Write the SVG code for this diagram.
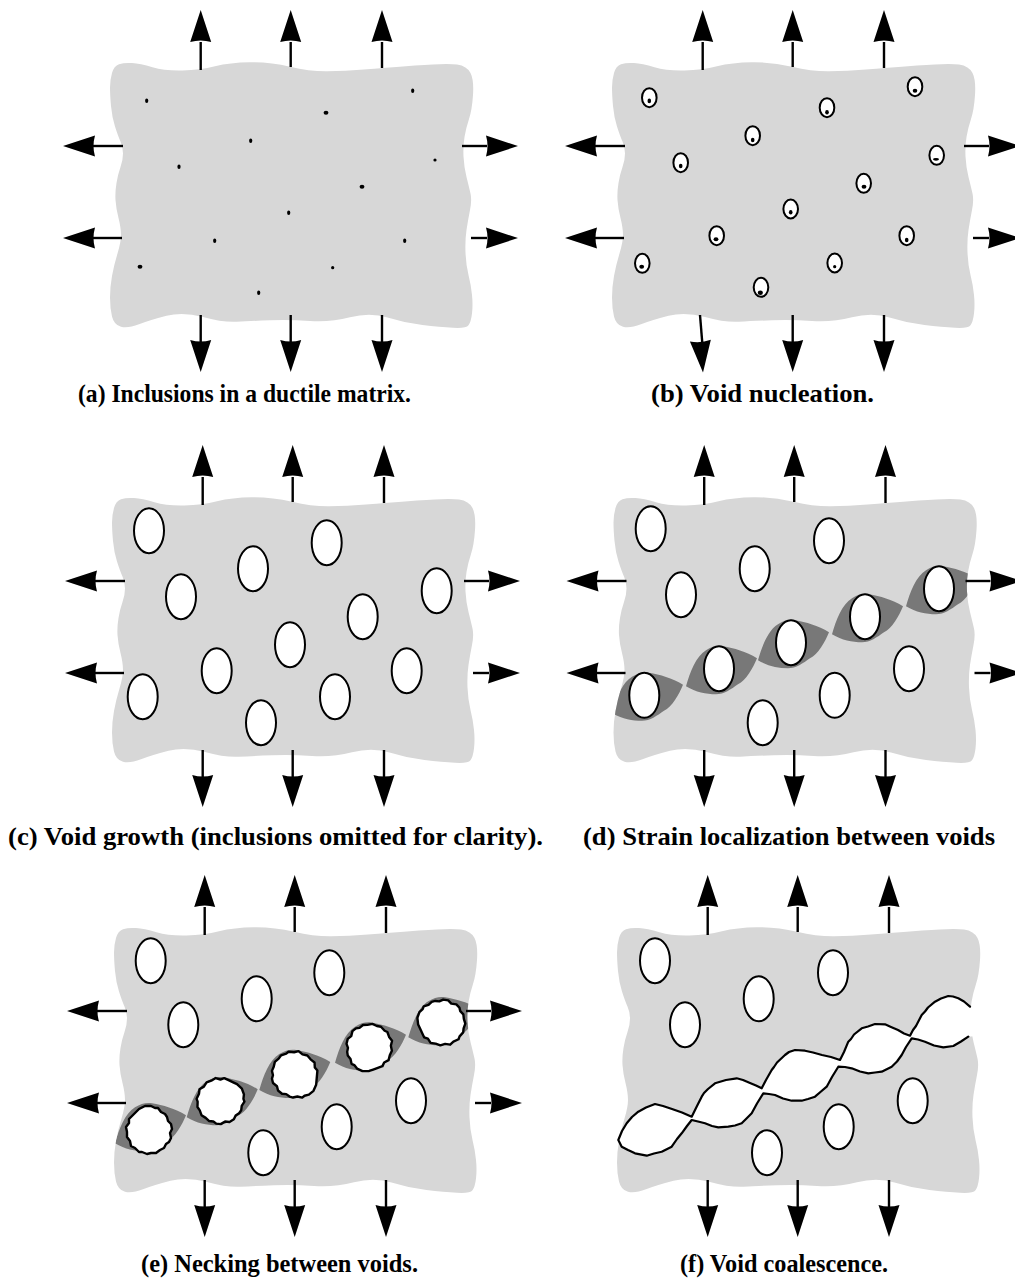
<svg xmlns="http://www.w3.org/2000/svg" width="1015" height="1281" viewBox="0 0 1015 1281">
  <style>
    .blob { fill: #d7d7d7; }
    .shaft { stroke: #000; stroke-width: 2.4; fill: none; }
    .head { fill: #000; }
    .inc { fill: #000; }
    .void { fill: #fff; stroke: #000; stroke-width: 2; }
    .band { fill: #787878; }
    .jag { fill: #fff; stroke: #000; stroke-width: 2.4; stroke-linejoin: round; }
    .crack-fill { fill: #fff; }
    .crack-edge { fill: none; stroke: #000; stroke-width: 2.2; stroke-linejoin: round; stroke-linecap: round; }
    .label { font-family: "Liberation Serif", "Times New Roman", serif; font-weight: bold; font-size: 25px; fill: #000; }
  </style>
  <defs>
    <!-- wavy specimen outline, panel (a) coordinates -->
    <path id="blob" d="M110,87.5 Q110,80 112,73 Q114,66 119,64.25 Q124,62.5 132,63 Q140,63.5 152.5,67.25 Q165,71 182.5,70.5 Q200,70 215,66.25 Q230,62.5 250,62.25 Q270,62 290,66.75 Q310,71.5 327.5,71.25 Q345,71 364,69.5 Q383,68 415,65.5 Q447,63 457,64.5 Q467,66 470.5,73 Q474,80 473,95 Q472,110 469,119 Q466,128 464.5,137 Q463,146 463.5,156.5 Q464,167 466.5,177 Q469,187 470.5,193.5 Q472,200 470,210 Q468,220 466.5,230 Q465,240 465.5,252.5 Q466,265 468.5,275 Q471,285 472,295 Q473,305 472,313.5 Q471,322 468.5,325.25 Q466,328.5 453,327.75 Q440,327 422.5,325 Q405,323 387.5,317.5 Q370,312 350,317.25 Q330,322.5 310,321 Q290,319.5 270,320.25 Q250,321 236.5,321.75 Q223,322.5 203,317 Q183,311.5 166.5,315.75 Q150,320 139,324.25 Q128,328.5 121,326.75 Q114,325 112,316.5 Q110,308 110,297.5 Q110,287 112,276 Q114,265 117.5,253.5 Q121,242 121,235 Q121,228 118.5,218 Q116,208 115.5,200 Q115,192 116.5,183 Q118,174 120.5,167 Q123,160 123,153.5 Q123,147 120.5,141.5 Q118,136 115,126.5 Q112,117 111,106 Q110,95 110,87.5 Z"/>
    <!-- arrowhead, tip at origin, pointing up -->
    <path id="ah" d="M0,0 L10.5,32 Q0,29 -10.5,32 Z"/>
    <!-- localized shear band piece between two voids -->
    <path id="seg" d="M0,0 C4,-14 10,-30 20,-36 C26,-40 32,-41 37,-40 C48,-38 60,-35 71,-28 C67,-18 60,-6 52,-2 C45,3 38,8 30,8 C20,8 10,6 0,0 Z"/>
    <!-- torn void outline -->
    <path id="jag" d="M-4,-24 L2,-24 L6,-22 L9,-22 L12,-18 L16,-16 L18,-13 L19,-9 L22,-6 L23,-1 L21,3 L22,8 L20,12 L17,14 L15,18 L11,20 L7,23 L2,23 L-2,24 L-7,22 L-10,22 L-14,18 L-18,16 L-19,11 L-22,7 L-22,2 L-23,-3 L-20,-7 L-20,-11 L-17,-14 L-13,-18 L-10,-21 Z"/>
    <clipPath id="clip-d"><use href="#blob" transform="translate(503.5,435)"/></clipPath>
    <clipPath id="clip-e"><use href="#blob" transform="translate(4,865)"/></clipPath>
  </defs>

  <rect width="1015" height="1281" fill="#fff"/>

  <!-- (a) inclusions in a ductile matrix -->
  <g id="panel-a">
    <use href="#blob" class="blob"/>
    <g class="inc">
      <ellipse cx="146.7" cy="100.7" rx="1.6" ry="2.2"/>
      <ellipse cx="326" cy="112.7" rx="2.4" ry="2"/>
      <ellipse cx="412.7" cy="90.7" rx="1.6" ry="2.2"/>
      <ellipse cx="250.7" cy="140.7" rx="1.6" ry="2.2"/>
      <ellipse cx="179" cy="166.7" rx="1.6" ry="2.2"/>
      <ellipse cx="435" cy="160" rx="1.6" ry="1.6"/>
      <ellipse cx="362" cy="186.7" rx="2.4" ry="2"/>
      <ellipse cx="288.7" cy="212.7" rx="1.6" ry="2.2"/>
      <ellipse cx="214.7" cy="240.7" rx="1.6" ry="2.2"/>
      <ellipse cx="404.7" cy="240.7" rx="1.6" ry="2.2"/>
      <ellipse cx="140" cy="266.7" rx="2.4" ry="2"/>
      <ellipse cx="332.7" cy="267.7" rx="1.6" ry="1.6"/>
      <ellipse cx="258.7" cy="292.7" rx="1.6" ry="2.2"/>
    </g>
  </g>

  <!-- (b) void nucleation -->
  <g id="panel-b">
    <use href="#blob" class="blob" transform="translate(502,0)"/>
    <g class="void">
      <ellipse cx="649.3" cy="97.7" rx="7.3" ry="9.5"/>
      <ellipse cx="827" cy="107.7" rx="7.3" ry="9.5"/>
      <ellipse cx="915" cy="86.7" rx="7.3" ry="9.5"/>
      <ellipse cx="752.7" cy="135.7" rx="7.3" ry="9.5"/>
      <ellipse cx="680.7" cy="162.7" rx="7.3" ry="9.5"/>
      <ellipse cx="936.7" cy="155.3" rx="7.3" ry="9.5"/>
      <ellipse cx="863.7" cy="183.3" rx="7.3" ry="9.5"/>
      <ellipse cx="790.7" cy="209" rx="7.3" ry="9.5"/>
      <ellipse cx="716.7" cy="235.7" rx="7.3" ry="9.5"/>
      <ellipse cx="906.7" cy="235.7" rx="7.3" ry="9.5"/>
      <ellipse cx="642.3" cy="263.3" rx="7.3" ry="9.5"/>
      <ellipse cx="834.7" cy="263" rx="7.3" ry="9.5"/>
      <ellipse cx="761" cy="287.3" rx="7.3" ry="9.5"/>
    </g>
    <g class="inc">
      <ellipse cx="649.3" cy="100.9" rx="1.8" ry="2.3"/>
      <ellipse cx="827" cy="112.3" rx="1.8" ry="2.3"/>
      <ellipse cx="915" cy="90.7" rx="2.3" ry="2"/>
      <ellipse cx="752.7" cy="140" rx="1.8" ry="2.3"/>
      <ellipse cx="680.7" cy="166" rx="1.8" ry="2.3"/>
      <ellipse cx="936" cy="159.3" rx="3" ry="1.4"/>
      <ellipse cx="864" cy="186.7" rx="2.4" ry="2"/>
      <ellipse cx="790.7" cy="212.3" rx="1.8" ry="2.3"/>
      <ellipse cx="716" cy="239.3" rx="2.4" ry="2"/>
      <ellipse cx="906.7" cy="240" rx="1.8" ry="2.3"/>
      <ellipse cx="641.7" cy="266.7" rx="2.4" ry="2"/>
      <ellipse cx="834.7" cy="266.7" rx="1.6" ry="1.6"/>
      <ellipse cx="760.3" cy="292.7" rx="2.6" ry="2.2"/>
    </g>
  </g>

  <!-- (c) void growth -->
  <g id="panel-c">
    <use href="#blob" class="blob" transform="translate(2,435)"/>
    <g class="void">
      <ellipse cx="149" cy="530.7" rx="15" ry="22.5"/>
      <ellipse cx="326.7" cy="542.7" rx="15" ry="22.5"/>
      <ellipse cx="253" cy="568.7" rx="15" ry="22.5"/>
      <ellipse cx="181" cy="596.7" rx="15" ry="22.5"/>
      <ellipse cx="436.7" cy="590.7" rx="15" ry="22.5"/>
      <ellipse cx="362.7" cy="616.7" rx="15" ry="22.5"/>
      <ellipse cx="290" cy="644.7" rx="15" ry="22.5"/>
      <ellipse cx="216.7" cy="670.7" rx="15" ry="22.5"/>
      <ellipse cx="406.7" cy="670.7" rx="15" ry="22.5"/>
      <ellipse cx="142.7" cy="696.7" rx="15" ry="22.5"/>
      <ellipse cx="335" cy="696.7" rx="15" ry="22.5"/>
      <ellipse cx="261" cy="722.7" rx="15" ry="22.5"/>
    </g>
  </g>

  <!-- (d) strain localization between voids -->
  <g id="panel-d">
    <use href="#blob" class="blob" transform="translate(503.5,435)"/>
    <g class="band" clip-path="url(#clip-d)">
      <use href="#seg" transform="translate(612,712.8)"/>
      <use href="#seg" transform="translate(686,686.2)"/>
      <use href="#seg" transform="translate(758,660.2)"/>
      <use href="#seg" transform="translate(832,634.2)"/>
      <use href="#seg" transform="translate(906,606.2)"/>
    </g>
    <g class="void">
      <ellipse cx="650.7" cy="528.7" rx="15" ry="22.5"/>
      <ellipse cx="829" cy="540.7" rx="15" ry="22.5"/>
      <ellipse cx="754.7" cy="568.7" rx="15" ry="22.5"/>
      <ellipse cx="681" cy="594.7" rx="15" ry="22.5"/>
      <ellipse cx="909" cy="668.7" rx="15" ry="22.5"/>
      <ellipse cx="834.7" cy="695.3" rx="15" ry="22.5"/>
      <ellipse cx="762.7" cy="722.7" rx="15" ry="22.5"/>
      <ellipse cx="644.3" cy="695.3" rx="15" ry="22.5"/>
      <ellipse cx="719" cy="668.7" rx="15" ry="22.5"/>
      <ellipse cx="791" cy="642.7" rx="15" ry="22.5"/>
      <ellipse cx="865" cy="616.7" rx="15" ry="22.5"/>
      <ellipse cx="939" cy="588.7" rx="15" ry="22.5"/>
    </g>
  </g>

  <!-- (e) necking between voids -->
  <g id="panel-e">
    <use href="#blob" class="blob" transform="translate(4,865)"/>
    <g class="band" clip-path="url(#clip-e)">
      <use href="#seg" transform="translate(115,1143.3)"/>
      <use href="#seg" transform="translate(186.7,1117.3)"/>
      <use href="#seg" transform="translate(259.3,1090)"/>
      <use href="#seg" transform="translate(335,1062.7)"/>
      <use href="#seg" transform="translate(408.3,1037.3)"/>
    </g>
    <g class="void">
      <ellipse cx="150.7" cy="960.7" rx="15" ry="22.5"/>
      <ellipse cx="329.3" cy="972.7" rx="15" ry="22.5"/>
      <ellipse cx="256.7" cy="998.7" rx="15" ry="22.5"/>
      <ellipse cx="183.3" cy="1024.7" rx="15" ry="22.5"/>
      <ellipse cx="411" cy="1100.7" rx="15" ry="22.5"/>
      <ellipse cx="336.7" cy="1126.7" rx="15" ry="22.5"/>
      <ellipse cx="263.3" cy="1152.7" rx="15" ry="22.5"/>
    </g>
    <g class="jag">
      <use href="#jag" transform="translate(149,1130)"/>
      <use href="#jag" transform="translate(220.7,1100.7) rotate(70)"/>
      <use href="#jag" transform="translate(295,1075) rotate(140)"/>
      <use href="#jag" transform="translate(369,1047.7) rotate(205)"/>
      <use href="#jag" transform="translate(441.3,1022.3) rotate(290)"/>
    </g>
  </g>

  <!-- (f) void coalescence -->
  <g id="panel-f">
    <use href="#blob" class="blob" transform="translate(507,865)"/>
    <g class="void">
      <ellipse cx="655" cy="960.7" rx="15" ry="22.5"/>
      <ellipse cx="833" cy="972.7" rx="15" ry="22.5"/>
      <ellipse cx="758.7" cy="998.7" rx="15" ry="22.5"/>
      <ellipse cx="685" cy="1024.7" rx="15" ry="22.5"/>
      <ellipse cx="912.7" cy="1100.7" rx="15" ry="22.5"/>
      <ellipse cx="838.7" cy="1126.7" rx="15" ry="22.5"/>
      <ellipse cx="767" cy="1152.7" rx="15" ry="22.5"/>
    </g>
    <g id="crack">
      <path class="crack-fill" d="M618.3,1140 L626.7,1123.3 L638.3,1111.7 L655,1104 L672,1109 L691.7,1116.7 L701.7,1096.7 L715,1083.3 L736.7,1078.3 L750,1083 L761.7,1088.3 L771.7,1070 L785,1055 L795,1050 L805,1050.7 L822,1055 L840,1060 L848.3,1041.7 L861.7,1028.3 L875,1024 L885,1024.3 L898,1030 L910,1035.7 L921.7,1015 L935,1001.7 L948.3,996 L958.3,998.3 L970,1006.7 L976,1008 L976,1036 L968.3,1036.7 L953.3,1046 L943.3,1047.3 L925,1041.7 L911.7,1038.3 L901.7,1055 L891.7,1066.7 L881.7,1071.7 L868.3,1073.3 L851.7,1068.3 L838.3,1066.7 L826.7,1086.7 L815,1096.7 L801.7,1100.7 L791.7,1100.7 L775,1095 L763.3,1093.3 L751.7,1113.3 L741.7,1123.3 L728.3,1126.7 L718.3,1127.3 L705,1123.3 L691.7,1120 L681.7,1133.3 L671.7,1146.7 L661.7,1151.7 L646.7,1155.7 L635,1153.3 L621.7,1146.7 Z"/>
      <path class="crack-edge" d="M970,1006.7 L964,1001.5 L958.3,998.3 L953,996.5 L948.3,996 L941,998.5 L935,1001.7 L928,1007.5 L925,1011.5 L921.7,1015 L916,1026 L913,1030 L910,1035.7 L904,1033.5 L898,1030 L891,1027 L885,1024.3 L875,1024 L868,1026.5 L861.7,1028.3 L854,1034.5 L851,1039 L848.3,1041.7 L844,1052 L840,1060 L831,1057 L822,1055 L813,1052.5 L805,1050.7 L795,1050 L789,1052 L785,1055 L777,1062.5 L774,1067 L771.7,1070 L766,1080 L761.7,1088.3 L756,1085.5 L750,1083 L743,1080 L736.7,1078.3 L726,1080 L715,1083.3 L708,1089 L704,1093 L701.7,1096.7 L697,1106 L691.7,1116.7 L682,1112.5 L672,1109 L663,1106 L655,1104 L646,1107.5 L638.3,1111.7 L632,1117 L626.7,1123.3 L622,1131 L618.3,1140 L621.7,1146.7 L628,1150 L635,1153.3 L646.7,1155.7 L654,1153.5 L661.7,1151.7 L671.7,1146.7 L677,1139 L681.7,1133.3 L687,1126 L691.7,1120 L698,1121.5 L705,1123.3 L712,1126 L718.3,1127.3 L728.3,1126.7 L735,1125.5 L741.7,1123.3 L747,1118 L751.7,1113.3 L757,1103.5 L763.3,1093.3 L769,1094 L775,1095 L783,1098.5 L791.7,1100.7 L801.7,1100.7 L808,1099 L815,1096.7 L821,1091.5 L826.7,1086.7 L832,1077 L838.3,1066.7 L845,1067 L851.7,1068.3 L860,1071.5 L868.3,1073.3 L875,1072.5 L881.7,1071.7 L891.7,1066.7 L897,1061.5 L901.7,1055 L906,1047 L911.7,1038.3 L918,1039.5 L925,1041.7 L934,1045.5 L943.3,1047.3 L953.3,1046 L961,1041.5 L968.3,1036.7"/>
    </g>
  </g>

  <!-- applied tractions -->
  <g id="connectors">
    <g id="loads-a">
      <g class="shaft">
        <line x1="200.7" y1="42" x2="200.7" y2="70"/>
        <line x1="290.7" y1="42" x2="290.7" y2="67"/>
        <line x1="382" y1="42" x2="382" y2="68"/>
        <line x1="200.7" y1="315" x2="200.7" y2="343"/>
        <line x1="290.7" y1="315" x2="290.7" y2="343"/>
        <line x1="382" y1="315" x2="382" y2="343"/>
        <line x1="93" y1="146" x2="123" y2="146"/>
        <line x1="93" y1="238" x2="122" y2="238"/>
        <line x1="462" y1="146" x2="487" y2="146"/>
        <line x1="471" y1="238" x2="487" y2="238"/>
      </g>
      <g class="head">
        <use href="#ah" transform="translate(200.7,10)"/>
        <use href="#ah" transform="translate(290.7,10)"/>
        <use href="#ah" transform="translate(382,10)"/>
        <use href="#ah" transform="translate(200.7,372) rotate(180)"/>
        <use href="#ah" transform="translate(290.7,372) rotate(180)"/>
        <use href="#ah" transform="translate(382,372) rotate(180)"/>
        <use href="#ah" transform="translate(63,146) rotate(-90)"/>
        <use href="#ah" transform="translate(63,238) rotate(-90)"/>
        <use href="#ah" transform="translate(518,146) rotate(90)"/>
        <use href="#ah" transform="translate(518,238) rotate(90)"/>
      </g>
    </g>
    <g id="loads-b" transform="translate(502,0)">
      <g class="shaft">
        <line x1="200.7" y1="42" x2="200.7" y2="70"/>
        <line x1="290.7" y1="42" x2="290.7" y2="67"/>
        <line x1="382" y1="42" x2="382" y2="68"/>
        <line x1="198" y1="315" x2="200.3" y2="343"/>
        <line x1="290.7" y1="315" x2="290.7" y2="343"/>
        <line x1="382" y1="315" x2="382" y2="343"/>
        <line x1="93" y1="146" x2="123" y2="146"/>
        <line x1="93" y1="238" x2="122" y2="238"/>
        <line x1="462" y1="146" x2="487" y2="146"/>
        <line x1="471" y1="238" x2="487" y2="238"/>
      </g>
      <g class="head">
        <use href="#ah" transform="translate(200.7,10)"/>
        <use href="#ah" transform="translate(290.7,10)"/>
        <use href="#ah" transform="translate(382,10)"/>
        <use href="#ah" transform="translate(201,372.5) rotate(175.3)"/>
        <use href="#ah" transform="translate(290.7,372) rotate(180)"/>
        <use href="#ah" transform="translate(382,372) rotate(180)"/>
        <use href="#ah" transform="translate(63,146) rotate(-90)"/>
        <use href="#ah" transform="translate(63,238) rotate(-90)"/>
        <use href="#ah" transform="translate(518,146) rotate(90)"/>
        <use href="#ah" transform="translate(518,238) rotate(90)"/>
      </g>
    </g>
    <g id="loads-c" transform="translate(2,435)">
      <g class="shaft">
        <line x1="200.7" y1="42" x2="200.7" y2="70"/>
        <line x1="290.7" y1="42" x2="290.7" y2="67"/>
        <line x1="382" y1="42" x2="382" y2="68"/>
        <line x1="200.7" y1="315" x2="200.7" y2="343"/>
        <line x1="290.7" y1="315" x2="290.7" y2="343"/>
        <line x1="382" y1="315" x2="382" y2="343"/>
        <line x1="93" y1="146" x2="123" y2="146"/>
        <line x1="93" y1="238" x2="122" y2="238"/>
        <line x1="462" y1="146" x2="487" y2="146"/>
        <line x1="471" y1="238" x2="487" y2="238"/>
      </g>
      <g class="head">
        <use href="#ah" transform="translate(200.7,10)"/>
        <use href="#ah" transform="translate(290.7,10)"/>
        <use href="#ah" transform="translate(382,10)"/>
        <use href="#ah" transform="translate(200.7,372) rotate(180)"/>
        <use href="#ah" transform="translate(290.7,372) rotate(180)"/>
        <use href="#ah" transform="translate(382,372) rotate(180)"/>
        <use href="#ah" transform="translate(63,146) rotate(-90)"/>
        <use href="#ah" transform="translate(63,238) rotate(-90)"/>
        <use href="#ah" transform="translate(518,146) rotate(90)"/>
        <use href="#ah" transform="translate(518,238) rotate(90)"/>
      </g>
    </g>
    <g id="loads-d" transform="translate(503.5,435)">
      <g class="shaft">
        <line x1="200.7" y1="42" x2="200.7" y2="70"/>
        <line x1="290.7" y1="42" x2="290.7" y2="67"/>
        <line x1="382" y1="42" x2="382" y2="68"/>
        <line x1="200.7" y1="315" x2="200.7" y2="343"/>
        <line x1="290.7" y1="315" x2="290.7" y2="343"/>
        <line x1="382" y1="315" x2="382" y2="343"/>
        <line x1="93" y1="146" x2="123" y2="146"/>
        <line x1="93" y1="238" x2="122" y2="238"/>
        <line x1="462" y1="146" x2="487" y2="146"/>
        <line x1="471" y1="238" x2="487" y2="238"/>
      </g>
      <g class="head">
        <use href="#ah" transform="translate(200.7,10)"/>
        <use href="#ah" transform="translate(290.7,10)"/>
        <use href="#ah" transform="translate(382,10)"/>
        <use href="#ah" transform="translate(200.7,372) rotate(180)"/>
        <use href="#ah" transform="translate(290.7,372) rotate(180)"/>
        <use href="#ah" transform="translate(382,372) rotate(180)"/>
        <use href="#ah" transform="translate(63,146) rotate(-90)"/>
        <use href="#ah" transform="translate(63,238) rotate(-90)"/>
        <use href="#ah" transform="translate(518,146) rotate(90)"/>
        <use href="#ah" transform="translate(518,238) rotate(90)"/>
      </g>
    </g>
    <g id="loads-e" transform="translate(4,865)">
      <g class="shaft">
        <line x1="200.7" y1="42" x2="200.7" y2="70"/>
        <line x1="290.7" y1="42" x2="290.7" y2="67"/>
        <line x1="382" y1="42" x2="382" y2="68"/>
        <line x1="200.7" y1="315" x2="200.7" y2="343"/>
        <line x1="290.7" y1="315" x2="290.7" y2="343"/>
        <line x1="382" y1="315" x2="382" y2="343"/>
        <line x1="93" y1="146" x2="123" y2="146"/>
        <line x1="93" y1="238" x2="122" y2="238"/>
        <line x1="462" y1="146" x2="487" y2="146"/>
        <line x1="471" y1="238" x2="487" y2="238"/>
      </g>
      <g class="head">
        <use href="#ah" transform="translate(200.7,10)"/>
        <use href="#ah" transform="translate(290.7,10)"/>
        <use href="#ah" transform="translate(382,10)"/>
        <use href="#ah" transform="translate(200.7,372) rotate(180)"/>
        <use href="#ah" transform="translate(290.7,372) rotate(180)"/>
        <use href="#ah" transform="translate(382,372) rotate(180)"/>
        <use href="#ah" transform="translate(63,146) rotate(-90)"/>
        <use href="#ah" transform="translate(63,238) rotate(-90)"/>
        <use href="#ah" transform="translate(518,146) rotate(90)"/>
        <use href="#ah" transform="translate(518,238) rotate(90)"/>
      </g>
    </g>
    <g id="loads-f" transform="translate(507,865)">
      <g class="shaft">
        <line x1="200.7" y1="42" x2="200.7" y2="70"/>
        <line x1="290.7" y1="42" x2="290.7" y2="67"/>
        <line x1="382" y1="42" x2="382" y2="68"/>
        <line x1="200.7" y1="315" x2="200.7" y2="343"/>
        <line x1="290.7" y1="315" x2="290.7" y2="343"/>
        <line x1="382" y1="315" x2="382" y2="343"/>
      </g>
      <g class="head">
        <use href="#ah" transform="translate(200.7,10)"/>
        <use href="#ah" transform="translate(290.7,10)"/>
        <use href="#ah" transform="translate(382,10)"/>
        <use href="#ah" transform="translate(200.7,372) rotate(180)"/>
        <use href="#ah" transform="translate(290.7,372) rotate(180)"/>
        <use href="#ah" transform="translate(382,372) rotate(180)"/>
      </g>
    </g>
  </g>

  <!-- captions -->
  <g id="captions" class="label">
    <text x="78" y="402" textLength="333" lengthAdjust="spacingAndGlyphs">(a) Inclusions in a ductile matrix.</text>
    <text x="651" y="402" textLength="223" lengthAdjust="spacingAndGlyphs">(b) Void nucleation.</text>
    <text x="8" y="845" textLength="535" lengthAdjust="spacingAndGlyphs">(c) Void growth (inclusions omitted for clarity).</text>
    <text x="583" y="845" textLength="412" lengthAdjust="spacingAndGlyphs">(d) Strain localization between voids</text>
    <text x="141" y="1272" textLength="277" lengthAdjust="spacingAndGlyphs">(e) Necking between voids.</text>
    <text x="680" y="1272" textLength="208" lengthAdjust="spacingAndGlyphs">(f) Void coalescence.</text>
  </g>
</svg>
